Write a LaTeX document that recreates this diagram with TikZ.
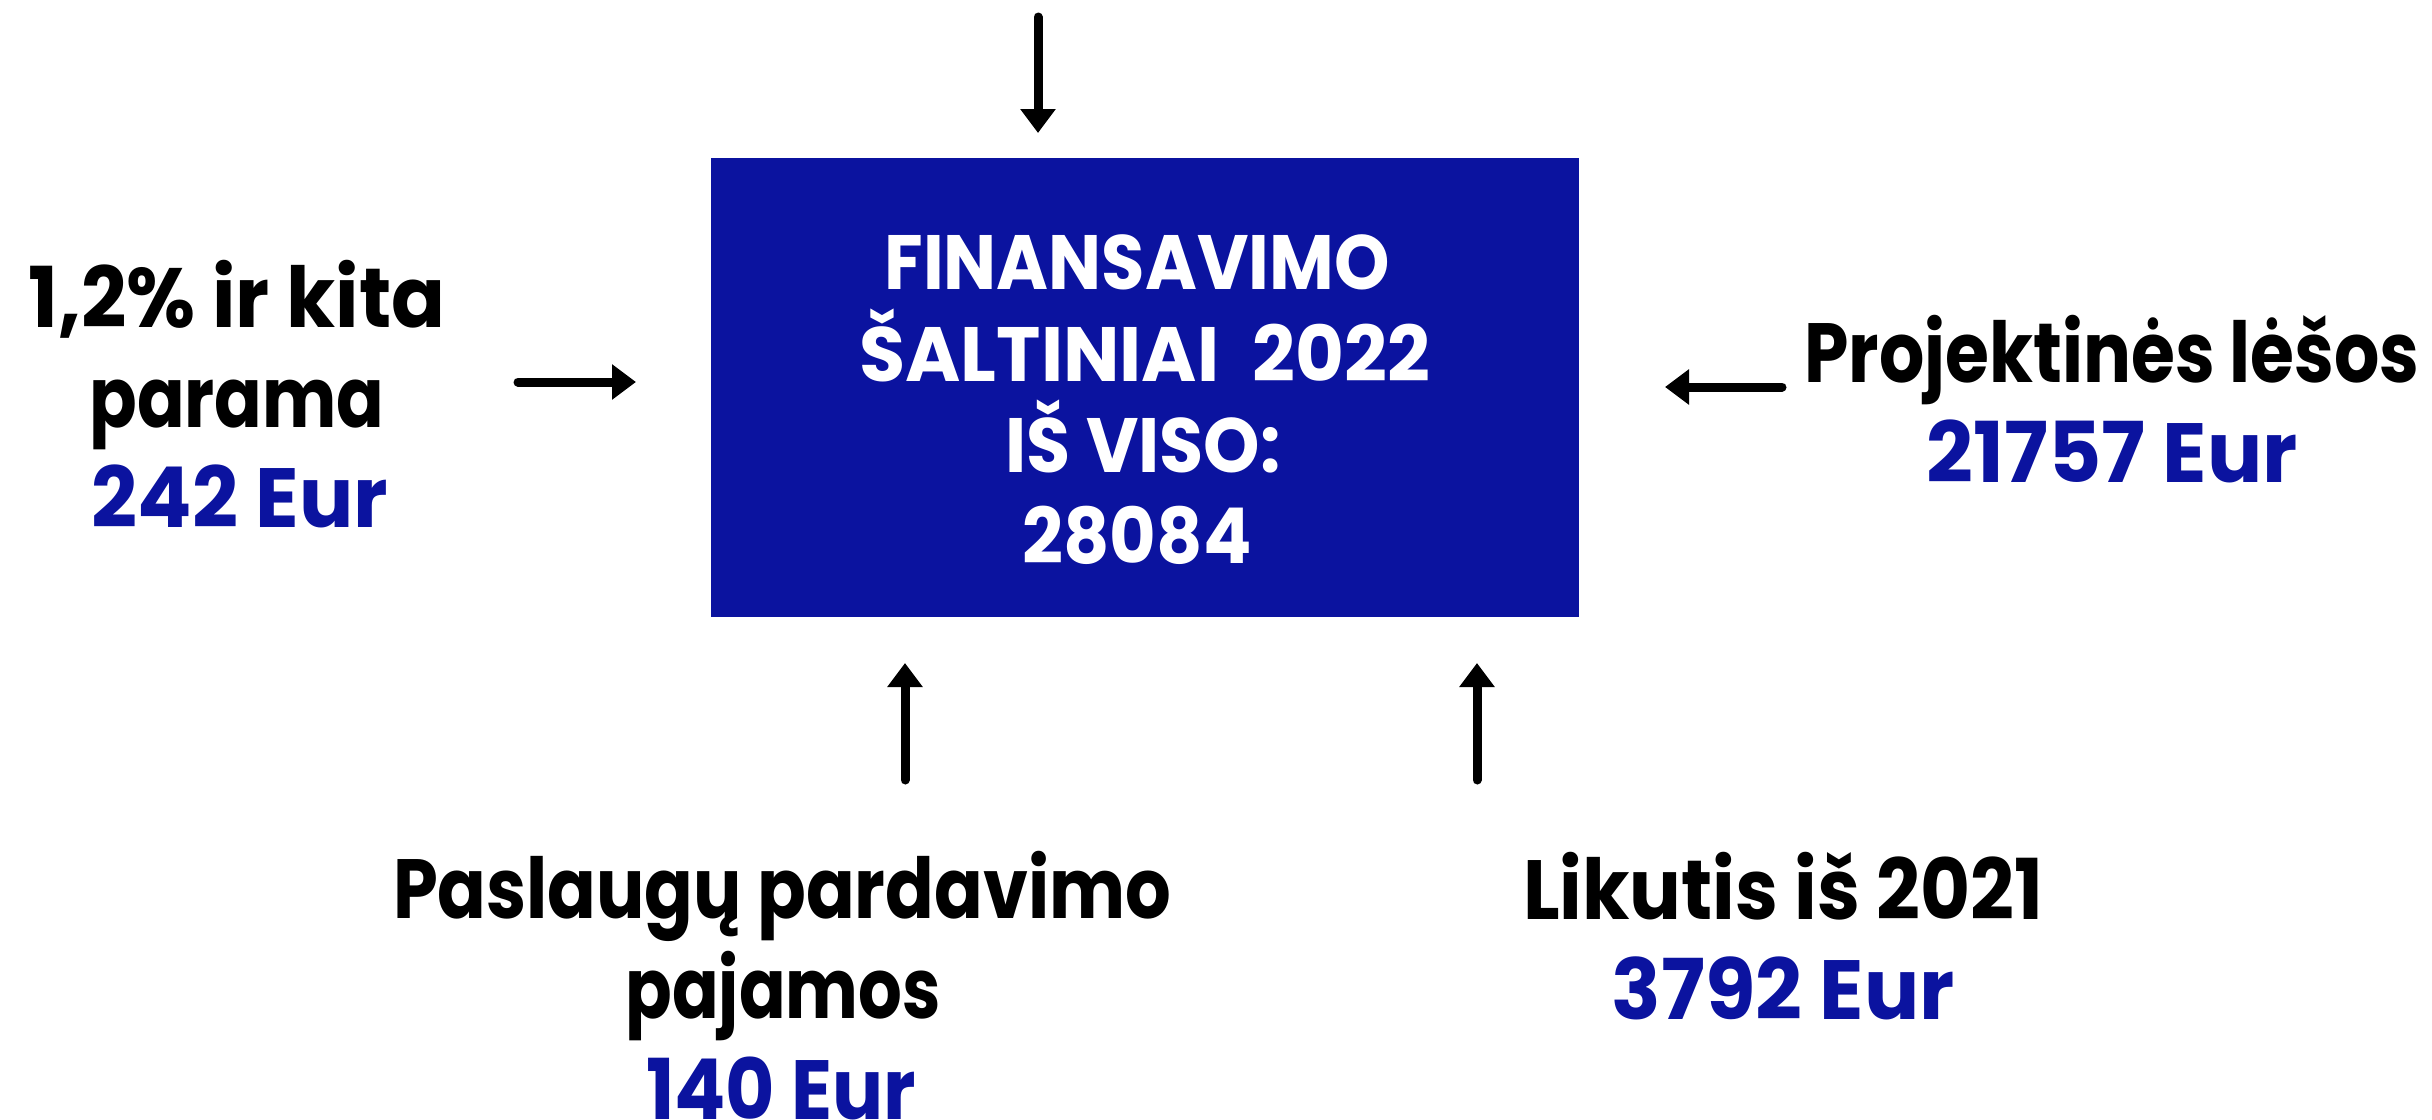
\documentclass[tikz,border=0pt]{standalone}
\usepackage{fontspec}
\setmainfont{Poppins}
\usetikzlibrary{arrows.meta}
\definecolor{eblue}{HTML}{0B139F}
\newcommand\fitw[2]{\resizebox{#1}{\height}{#2}}
\begin{document}
\begin{tikzpicture}[x=1pt,y=-1pt,
  lbl/.style={anchor=base,inner sep=0pt,font=\fontsize{84}{100}\selectfont\bfseries},
  val/.style={lbl,text=eblue},
  boxtxt/.style={anchor=base,inner sep=0pt,text=white,font=\fontsize{77}{91}\selectfont\bfseries},
  arr/.style={line width=9pt,line cap=round,line join=round,-{Triangle[width=34pt,length=24pt]}}]
\useasboundingbox (0,0) rectangle (2432,1119);
\fill[white] (0,0) rectangle (2432,1119);
\node[fill=eblue, minimum width=868pt, minimum height=459pt, inner sep=0pt] (box) at (1145,387.5) {};
\node[boxtxt] (b1) at (1137,289) {\fitw{505pt}{FINANSAVIMO}};
\node[boxtxt] (b2) at (1145,381) {\fitw{571pt}{ŠALTINIAI\hspace{0.45em}2022}};
\node[boxtxt] (b3) at (1143,472) {\fitw{275pt}{IŠ VISO:}};
\node[boxtxt] (b4) at (1137,563) {\fitw{229pt}{28084}};
% left
\node[lbl] (l1) at (237,327) {\fitw{417pt}{1,2\% ir kita}};
\node[lbl] (l2) at (237,427) {\fitw{295pt}{parama}};
\node[val] (l3) at (240,527) {\fitw{296pt}{242 Eur}};
% right
\node[lbl] (r1) at (2112,382) {\fitw{615pt}{Projektinės lėšos}};
\node[val] (r2) at (2112,482) {\fitw{371pt}{21757 Eur}};
% bottom left
\node[lbl] (p1) at (782,918) {\fitw{778pt}{Paslaugų pardavimo}};
\node[lbl] (p2) at (783,1018) {\fitw{315pt}{pajamos}};
\node[val] (p3) at (781,1119) {\fitw{270pt}{140 Eur}};
% bottom right
\node[lbl] (k1) at (1783,919) {\fitw{520pt}{Likutis iš 2021}};
\node[val] (k2) at (1783,1019) {\fitw{343pt}{3792 Eur}};
% arrow ends
\coordinate (t0) at (1038,17);   \coordinate (t1) at (1038,133);
\coordinate (lf0) at (518,382);  \coordinate (lf1) at (636,382);
\coordinate (rt0) at (1782,387); \coordinate (rt1) at (1665,387);
\coordinate (bl0) at (905,780);  \coordinate (bl1) at (905,663);
\coordinate (br0) at (1477,780); \coordinate (br1) at (1477,663);
\draw[arr] (t0) -- (t1);
\draw[arr] (lf0) -- (lf1);
\draw[arr] (rt0) -- (rt1);
\draw[arr] (bl0) -- (bl1);
\draw[arr] (br0) -- (br1);
\end{tikzpicture}
\end{document}
